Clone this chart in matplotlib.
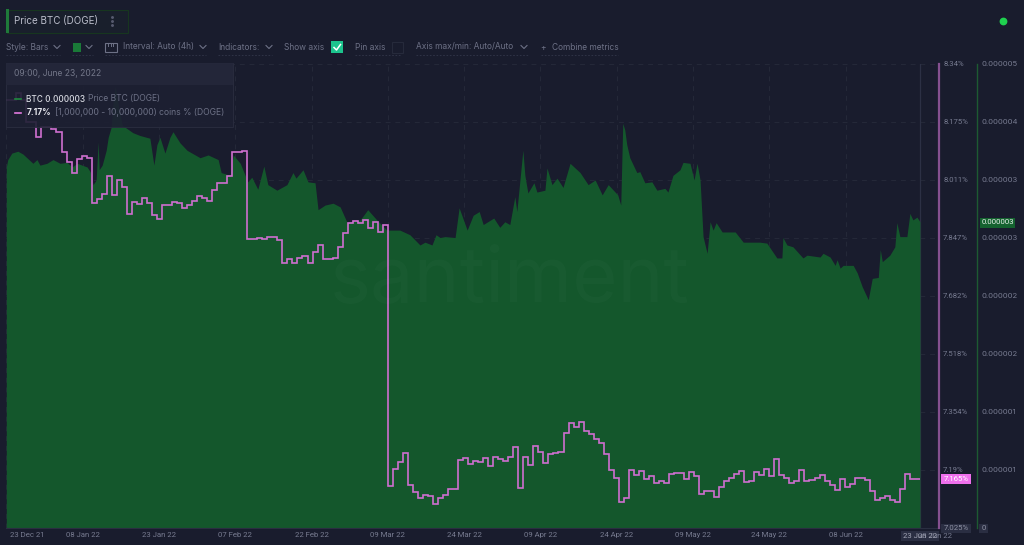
import matplotlib
matplotlib.use("Agg")
import matplotlib.pyplot as plt
import matplotlib.patches as patches
from matplotlib.transforms import ScaledTranslation
import numpy as np

plt.rcParams['font.family'] = ['Inter', 'DejaVu Sans']

# daily share of (1,000,000 - 10,000,000) coins, %, from 23 Dec 21
pct_values = [
    8.238, 8.238, 8.258, 8.238, 8.176, 8.176, 8.133, 8.161, 8.161, 8.156, 8.147, 8.091, 8.062, 8.031, 8.071, 8.079,
    8.074, 7.946, 7.957, 7.972, 8.023, 7.969, 8.011, 7.991, 7.915, 7.949, 7.943, 7.960, 7.946, 7.912, 7.901, 7.940,
    7.940, 7.949, 7.946, 7.932, 7.940, 7.952, 7.966, 7.960, 7.952, 7.983, 8.003, 8.003, 8.023, 8.091, 8.091, 8.093,
    7.844, 7.844, 7.847, 7.844, 7.850, 7.850, 7.841, 7.776, 7.787, 7.776, 7.790, 7.796, 7.776, 7.807, 7.827, 7.787,
    7.787, 7.790, 7.821, 7.861, 7.889, 7.895, 7.889, 7.898, 7.875, 7.892, 7.864, 7.884,
    7.145, 7.193, 7.213, 7.238, 7.148, 7.126, 7.109, 7.119, 7.116, 7.094, 7.110, 7.118, 7.136, 7.135, 7.219, 7.223,
    7.206, 7.216, 7.212, 7.224, 7.201, 7.227, 7.221, 7.214, 7.227, 7.255, 7.138, 7.226, 7.204, 7.257, 7.241, 7.208,
    7.235, 7.238, 7.240, 7.293, 7.323, 7.310, 7.325, 7.301, 7.292, 7.277, 7.265, 7.234, 7.189, 7.166, 7.098, 7.109,
    7.190, 7.174, 7.187, 7.163, 7.173, 7.152, 7.159, 7.153, 7.177, 7.181, 7.180, 7.164, 7.183, 7.172, 7.122, 7.131,
    7.130, 7.113, 7.140, 7.157, 7.168, 7.177, 7.186, 7.155, 7.158, 7.183, 7.174, 7.192, 7.172, 7.221, 7.175, 7.166,
    7.152, 7.157, 7.189, 7.157, 7.162, 7.167, 7.174, 7.157, 7.147, 7.132, 7.163, 7.142, 7.151, 7.166, 7.168, 7.161,
    7.129, 7.104, 7.110, 7.116, 7.104, 7.098, 7.136, 7.178, 7.163, 7.164,
]

# price readings: day since 23 Dec 21, price in millionths of a BTC
price_days = [
    0.0, 0.3, 1.1, 2.3, 3.3, 4.1, 5.3, 6.1, 6.7, 8.1, 9.3, 10.7, 12.1, 13.1, 14.1, 16.1, 16.7, 17.3, 17.9, 18.3,
    18.5, 19.1, 19.9, 20.3, 20.9, 21.3, 21.7, 22.3, 23.1, 25.2, 26.6, 28.6, 29.4, 30.0, 30.6, 31.6, 32.6, 33.2,
    34.6, 36.0, 38.6, 40.2, 42.2, 42.8, 44.6, 45.2, 46.6, 48.1, 48.9, 50.1, 51.3, 52.1, 53.9, 55.9, 57.1, 57.7,
    59.1, 60.1, 61.5, 62.1, 63.5, 65.1, 66.5, 67.9, 70.5, 72.0, 73.8, 75.8, 78.4, 80.4, 82.4, 83.4, 84.8, 85.6,
    86.4, 87.4, 89.4, 90.2, 91.8, 93.0, 94.2, 95.0, 97.1, 98.3, 99.3, 100.3, 101.3, 101.7, 102.9, 103.3, 103.9,
    105.1, 105.7, 107.3, 107.7, 108.7, 109.7, 110.9, 112.3, 114.3, 115.9, 117.3, 118.7, 119.9, 121.8, 122.4,
    122.8, 123.2, 123.6, 124.2, 125.6, 126.2, 127.2, 128.6, 129.6, 131.2, 131.8, 132.8, 134.2, 134.8, 136.2,
    137.0, 137.6, 138.2, 138.8, 139.6, 140.2, 140.8, 141.4, 142.6, 145.2, 146.8, 150.1, 151.5, 153.5, 154.5,
    154.7, 155.5, 156.7, 158.7, 159.5, 162.1, 162.7, 164.1, 165.1, 165.5, 166.1, 166.7, 168.7, 169.5, 170.5,
    171.7, 172.5, 173.7, 174.1, 174.5, 176.0, 177.0, 177.4, 178.0, 179.4, 180.0, 180.6, 181.4, 182.0,
]
price_values = [
    3.89, 3.97, 4.04, 4.06, 4.03, 3.99, 3.93, 3.97, 3.91, 3.93, 3.97, 3.93, 3.94, 3.89, 3.93, 3.89, 3.84, 3.70, 3.75, 4.16,
    3.86, 3.91, 4.07, 4.21, 4.32, 4.61, 4.76, 4.56, 4.34, 4.26, 4.23, 4.20, 3.91, 4.13, 4.21, 4.04, 4.21, 4.27,
    4.15, 4.07, 3.99, 4.02, 3.97, 3.83, 3.80, 4.02, 3.93, 3.73, 3.78, 3.65, 3.90, 3.70, 3.64, 3.70, 3.83, 3.77,
    3.86, 3.73, 3.72, 3.43, 3.48, 3.50, 3.46, 3.29, 3.32, 3.43, 3.32, 3.21, 3.21, 3.16, 3.05, 3.08, 3.05, 3.16,
    3.13, 3.14, 3.13, 3.45, 3.21, 3.37, 3.41, 3.27, 3.34, 3.24, 3.30, 3.27, 3.57, 3.41, 4.07, 3.80, 3.61,
    3.72, 3.62, 3.64, 3.88, 3.70, 3.77, 3.67, 3.93, 3.83, 3.70, 3.75, 3.59, 3.70, 3.59, 3.48,
    4.36, 4.29, 4.13, 3.99, 3.83, 3.84, 3.72, 3.73, 3.64, 3.66, 3.62, 3.80, 3.86, 3.94, 3.93,
    3.75, 3.93, 3.75, 3.14, 2.96, 3.30, 3.21, 3.29, 3.19, 3.19, 3.08, 3.08, 3.07, 2.91, 2.91,
    3.13, 3.05, 3.03, 2.91, 2.94, 2.92, 2.96, 2.92, 2.83, 2.89, 2.80, 2.83, 2.83, 2.75, 2.60,
    2.46, 2.69, 2.70, 3.00, 2.87, 2.94, 3.03, 3.29, 3.14, 3.14, 3.39, 3.32, 3.35, 3.30,
]

date_labels = ['23 Dec 21', '08 Jan 22', '23 Jan 22', '07 Feb 22', '22 Feb 22', '09 Mar 22', '24 Mar 22',
               '09 Apr 22', '24 Apr 22', '09 May 22', '24 May 22', '08 Jun 22', '23 Jun 22']
pct_labels = ['7.025%', '7.19%', '7.354%', '7.518%', '7.682%', '7.847%', '8.011%', '8.175%', '8.34%']
price_labels = ['0', '0.000001', '0.000001', '0.000002', '0.000002', '0.000003', '0.000003', '0.000004', '0.000005']

BG = '#191c2d'
GREEN = '#14572c'
PINK = '#cf6fd0'
GREY = '#6d7186'
TICK = '#777b90'
GRID = '#252939'
FS = 6.05
AXFS = 5.55
AXFONT = 'Roboto'

W, H = 1024, 545
fig = plt.figure(figsize=(W / 100, H / 100), dpi=100, facecolor=BG)

# plot area runs from x=6.3 to x=939 and y=64 to y=528 (5.02 px per day)
ax = fig.add_axes([6.3 / W, 1 - 528 / H, (939 - 6.3) / W, (528 - 64) / H], facecolor=BG)
ax.set_xlim(0, (939 - 6.3) / 5.02)
ax.set_ylim(0, 5)

ax.fill_between(price_days, price_values, 0, color=GREEN, lw=0, zorder=2)

tick_days = [15.2 * i for i in range(12)]
ax.set_xticks(tick_days)
ax.set_xticklabels(date_labels[:12], family=AXFONT)
ax.grid(True, color=GRID, lw=0.7, ls=(0, (5, 5)), zorder=1)
ax.set_axisbelow(True)
ax.set_yticks(np.arange(0, 5.01, 0.625))
ax.set_yticklabels(price_labels, family=AXFONT)
ax.tick_params(axis='x', length=0, pad=3, colors=TICK, labelsize=AXFS)
first = ax.xaxis.get_ticklabels()[0]
first.set_transform(first.get_transform() + ScaledTranslation(0.207, 0, fig.dpi_scale_trans))
ax.axvline(181.95, color='#2c3044', lw=0.9, zorder=1)

ax2 = ax.twinx()
ax2.set_ylim(7.025, 8.34)
ax2.set_yticks(np.linspace(7.025, 8.34, 9))
ax2.set_yticklabels(pct_labels, family=AXFONT)
ax2.tick_params(axis='y', length=0, pad=3, colors=TICK, labelsize=AXFS)
ax2.get_yticklabels()[0].set_alpha(0)
for name in ['left', 'top', 'bottom']:
    ax2.spines[name].set_visible(False)
ax2.spines['right'].set_color('#85508f')
ax2.spines['right'].set_linewidth(1.6)
ax2.stairs(pct_values, np.arange(len(pct_values) + 1), baseline=None, color=PINK, lw=1.2, zorder=3)

# twinx sends the price ticks to the left, so put them back on the far right
ax.yaxis.tick_right()
ax.tick_params(axis='y', length=0, pad=3.5, colors=TICK, labelsize=AXFS)
ax.get_yticklabels()[0].set_alpha(0)
for name in ['left', 'top']:
    ax.spines[name].set_visible(False)
ax.spines['bottom'].set_color('#2a2e41')
ax.spines['right'].set_color('#1d5a32')
ax.spines['right'].set_position(('outward', 27.4))
ax.spines['right'].set_linewidth(1)

# interface chrome in pixel coordinates on top of the chart
ui = fig.add_axes([0, 0, 1, 1], facecolor='none')
ui.set_xlim(0, W)
ui.set_ylim(H, 0)
ui.axis('off')


def box(x0, y0, x1, y1, **kw):
    ui.add_patch(patches.Rectangle((x0, y0), x1 - x0, y1 - y0, **kw))


def label(x, y, s, color=GREY, size=FS, ha='left', **kw):
    ui.text(x, y, s, color=color, fontsize=size, ha=ha, va='center', **kw)


def chevron(x, y, color='#6d7186'):
    ui.plot([x - 3, x, x + 3], [y - 1.5, y + 1.5, y - 1.5], color=color, lw=0.8)


def underline(x0, x1):
    ui.plot([x0, x1], [55, 55], color='#33374a', lw=0.6, ls=(0, (2, 2)))


ui.text(510, 282, 'santiment', color='#ffffff', alpha=0.018, fontsize=56, ha='center', va='center')

# metric title
box(6.5, 9.5, 128, 33, fc='#191f2c', ec='#17361f', lw=0.8)
box(6, 9, 9, 33, fc='#1f7a3a', ec='none')
label(14, 21, 'Price BTC (DOGE)', color='#b9bcc9', size=7.05)
ui.plot([112, 112, 112], [17, 21, 25], ls='none', marker='o', ms=1.1, color='#565a6e')
ui.plot([1002.7], [20.7], marker='o', ms=4.6, color='#1fd14f')

# toolbar
label(6, 47, 'Style: Bars')
chevron(57, 47)
underline(6, 60)
box(72.5, 43, 81, 51.5, fc='#1a7a38', ec='none')
chevron(89, 47)
underline(72, 93)
box(105, 43, 116.5, 51.5, fc='none', ec='#6d7186', lw=0.8)
ui.plot([108, 108], [43, 46], color='#6d7186', lw=0.7)
ui.plot([110.7, 110.7], [43, 46], color='#6d7186', lw=0.7)
ui.plot([113.4, 113.4], [43, 46], color='#6d7186', lw=0.7)
label(123, 47, 'Interval: Auto (4h)')
chevron(203, 47)
underline(105, 206)
label(218, 47, 'Indicators:')
chevron(269, 47)
underline(218, 272)
label(284, 47, 'Show axis')
box(331, 41, 343, 53, fc='#1cc48d', ec='none')
ui.plot([334, 336.5, 340.5], [47.5, 50, 44.5], color='white', lw=1.1)
label(355, 47, 'Pin axis')
underline(355, 401)
box(392, 41.5, 403, 53, fc='none', ec='#262a3b', lw=0.8)
label(416, 47, 'Axis max/min: Auto/Auto')
chevron(524, 47)
underline(416, 528)
label(540, 47, '+')
label(552, 47, 'Combine metrics')
underline(541, 618)

# tooltip
box(6, 63, 233, 127, fc='#1d2032', ec='#2a2d40', lw=0.7, alpha=0.9)
box(6, 63, 233, 85, fc='#24273a', ec='none', alpha=0.97)
label(14, 74, '09:00, June 23, 2022', color='#737789', size=6.1)
ui.plot([15, 21], [99, 99], color='#1f8a40', lw=1.2)
ui.plot([15, 21], [112.5, 112.5], color='#e27ae0', lw=1.2)
label(26.5, 99, 'BTC 0.000003', color='#d6d8e0', size=5.95, fontweight='medium')
label(88, 99, 'Price BTC (DOGE)', size=6.1)
label(26.5, 112.5, '7.17%', color='#e6e7ee', size=6.1, fontweight='bold')
label(55, 112.5, '[1,000,000 - 10,000,000) coins % (DOGE)', size=6.2)

# value badges on the axes
box(980, 217.5, 1015, 227.5, fc='#14622f', ec='none')
label(997.5, 222.3, '0.000003', color='#e6f2ea', size=AXFS, ha='center', family=AXFONT)
box(941, 474, 971, 484, fc='#ef70ec', ec='none')
label(956, 479, '7.165%', color='#ffffff', size=AXFS, ha='center', family=AXFONT)
box(941, 524, 971, 533, fc='#2a2e42', ec='none')
label(956, 528.5, '7.025%', color='#8d90a3', size=AXFS, ha='center', family=AXFONT)
box(979, 524, 988, 533, fc='#2a2e42', ec='none')
label(983.5, 528.5, '0', color='#8d90a3', size=AXFS, ha='center', family=AXFONT)

label(935, 535.8, date_labels[12], color=TICK, size=AXFS, ha='center', family=AXFONT)
box(901, 531, 939, 541, fc='#2a2e42', ec='none')
label(920, 536, date_labels[12], color='#a2a5b5', size=AXFS, ha='center', family=AXFONT)

fig.savefig('out.png', dpi=100, facecolor=BG)
